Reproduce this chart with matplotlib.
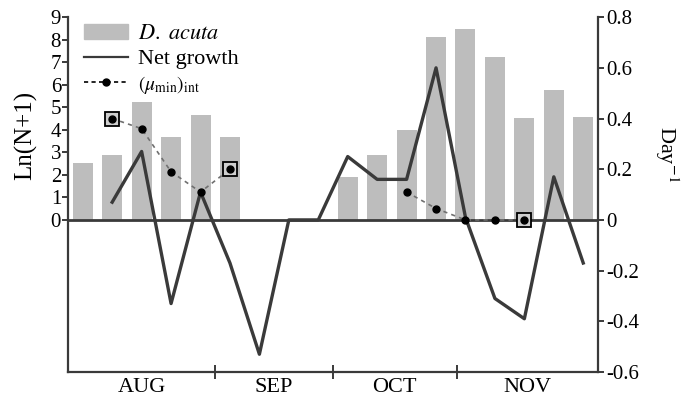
import matplotlib
matplotlib.use("Agg")
import matplotlib.pyplot as plt
import numpy as np
from matplotlib.lines import Line2D
from matplotlib.patches import Patch

plt.rcParams["font.family"] = ["Liberation Serif", "DejaVu Serif"]
plt.rcParams["mathtext.fontset"] = "stix"

nan = np.nan

# sampling dates (index along the x axis), Aug -> Nov
dates = np.arange(18)

# D. acuta abundance, Ln(N+1), left axis
ln_abundance = [2.53, 2.89, 5.24, 3.70, 4.65, 3.70, nan, nan, nan,
                1.92, 2.89, 4.00, 8.12, 8.49, 7.23, 4.52, 5.77, 4.57]

# net growth (day^-1), right axis
net_growth = [nan, 0.07, 0.27, -0.33, 0.11, -0.17, -0.53, 0.0, 0.0,
              0.25, 0.16, 0.16, 0.60, 0.01, -0.31, -0.39, 0.17, -0.17]

# (mu_min)_int (day^-1), right axis
mu_min = [nan, 0.40, 0.36, 0.19, 0.11, 0.20, nan, nan, nan,
          nan, nan, 0.11, 0.045, 0.0, 0.0, 0.0, nan, nan]

# dates with boxed (mu_min) values
boxed = [1, 5, 15]

months = ["AUG", "SEP", "OCT", "NOV"]
month_edges = [-0.5, 4.5, 8.5, 12.7, 17.5]

dark = "#3a3a3a"
bar_grey = "#bdbdbd"

fig = plt.figure(figsize=(6.83, 3.99), dpi=100)
ax = fig.add_axes([0.0996, 0.0677, 0.7759, 0.8893])
ax2 = ax.twinx()

# bars
ax.bar(dates, ln_abundance, width=0.68, color=bar_grey, zorder=1)
ax.set_xlim(-0.5, 17.5)
ax.set_ylim(-6.75, 9)
ax.set_yticks(range(0, 10))
ax.set_ylabel("Ln(N+1)", fontsize=18)
ax.yaxis.set_label_coords(-0.058, 0.668)

# lines
ax2.set_ylim(-0.6, 0.8)
ax2.axhline(0, color=dark, lw=2, zorder=2)
ax2.plot(dates, net_growth, color=dark, lw=2.4, zorder=3)
ax2.plot(dates, mu_min, color="#707070", lw=1.2, ls=(0, (2.5, 2.5)), zorder=4)
ax2.plot(dates, mu_min, ls="none", marker="o", ms=5, color="black", zorder=6)
mu_arr = np.array(mu_min)
ax2.plot(dates[boxed], mu_arr[boxed], ls="none", marker="s", ms=10,
         mfc="#cfcfcf", mec="black", mew=1.3, zorder=5)
ax2.set_yticks(np.arange(-0.6, 0.81, 0.2))
ax2.set_yticklabels([f"{v:.1f}" if abs(v) > 1e-9 else "0"
                     for v in np.arange(-0.6, 0.81, 0.2)])
ax2.set_ylabel(r"Day$^{-1}$", fontsize=16, rotation=270)
ax2.yaxis.set_label_coords(1.155, 0.614)

# spines
for a in (ax, ax2):
    a.spines["top"].set_visible(False)
    for s in a.spines.values():
        s.set_color(dark)
        s.set_linewidth(1.6)
ax.spines["right"].set_visible(False)
ax2.spines["left"].set_visible(False)
ax2.spines["bottom"].set_visible(False)

ax.tick_params(axis="y", direction="out", length=4, width=1.4, color=dark,
               labelsize=15, pad=1)
ax2.tick_params(axis="y", direction="out", length=4, width=1.4, color=dark,
                labelsize=15, pad=2)

# month separators and labels
ax.set_xticks(month_edges[1:-1])
ax.set_xticklabels([])
ax.tick_params(axis="x", which="major", direction="inout", length=10,
               width=1.4, color=dark)
mids = [(month_edges[i] + month_edges[i + 1]) / 2 for i in range(len(months))]
ax.set_xticks(mids, minor=True)
ax.set_xticklabels(months, minor=True, fontsize=16)
ax.tick_params(axis="x", which="minor", length=0, pad=4)

# legend
handles = [
    Patch(color=bar_grey),
    Line2D([], [], color=dark, lw=1.6),
    Line2D([], [], color="black", lw=1.2, ls=(0, (2.5, 2)), marker="o", ms=5),
]
labels = [r"$\it{D.\ acuta}$", "Net growth", r"$(\mu_{\rm min})_{\rm int}$"]
leg = ax2.legend(handles, labels, loc="upper left", bbox_to_anchor=(0.0, 1.025),
                 frameon=False, fontsize=16, handlelength=2.0, handletextpad=0.45,
                 labelspacing=0.2, borderaxespad=0.3)
leg.get_texts()[2].set_fontsize(14)
leg.set_zorder(10)

fig.savefig("out.png", dpi=100)
